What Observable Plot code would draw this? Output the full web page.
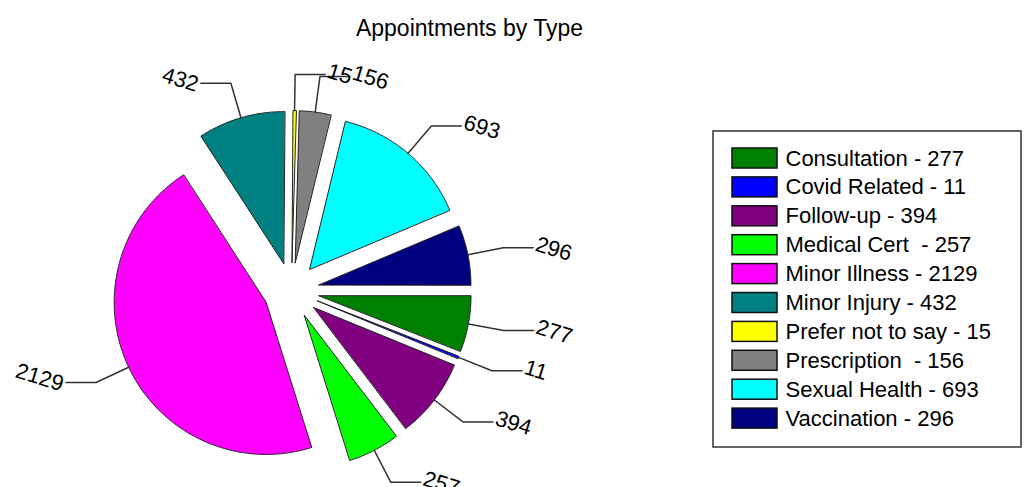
<!DOCTYPE html>
<html>
<head>
<meta charset="utf-8">
<script src="https://cdn.jsdelivr.net/npm/d3@7"></script>
<script src="https://cdn.jsdelivr.net/npm/@observablehq/plot@0.6"></script>
<style>
  html, body { margin: 0; padding: 0; background: #fff; }
  #chart svg text { white-space: pre; }
</style>
</head>
<body>
<div id="chart"></div>
<script>
const title = "Appointments by Type";
const categories = ["Consultation", "Covid Related", "Follow-up", "Medical Cert ", "Minor Illness", "Minor Injury", "Prefer not to say", "Prescription ", "Sexual Health", "Vaccination"];
const values = [277, 11, 394, 257, 2129, 432, 15, 156, 693, 296];
const colors = ["#008000", "#0000ff", "#800080", "#00ff00", "#ff00ff", "#008080", "#ffff00", "#808080", "#00ffff", "#000080"];

// layout
const W = 1024, H = 487;
const cx = 291, cy = 290, R = 152, explode = 28, leadOut = 36, leadH = 30;
const FONT = "Liberation Sans, Arial, sans-serif";

const arcs = d3.pie().sort(null).startAngle(Math.PI / 2).endAngle(Math.PI / 2 + 2 * Math.PI)(values);
const dir = a => [Math.sin(a), -Math.cos(a)];

const slices = arcs.map((arc, i) => {
  const m = (arc.startAngle + arc.endAngle) / 2;
  const [dx, dy] = dir(m);
  const ex = cx + explode * dx, ey = cy + explode * dy;
  const pts = [{x: ex, y: ey}];
  const n = Math.max(2, Math.ceil((arc.endAngle - arc.startAngle) / 0.01));
  for (let k = 0; k <= n; k++) {
    const t = arc.startAngle + (arc.endAngle - arc.startAngle) * k / n;
    const [ux, uy] = dir(t);
    pts.push({x: ex + R * ux, y: ey + R * uy});
  }
  const side = dx >= 0 ? 1 : -1;
  const p1 = {x: ex + R * dx, y: ey + R * dy};
  const p2 = {x: ex + (R + leadOut) * dx, y: ey + (R + leadOut) * dy};
  const p3 = {x: p2.x + side * leadH, y: p2.y};
  return {i, pts, lead: [p1, p2, p3].map(p => ({...p, k: i})), label: {x: p3.x + side * 3, y: p3.y + (side > 0 ? -4 : 2), side, text: String(values[i])}};
});

const marks = [];
// slices
for (const s of slices) {
  marks.push(Plot.line(s.pts, {x: "x", y: "y", curve: "linear-closed", fill: colors[s.i], stroke: "#222", strokeWidth: 1}));
}
// leader lines
marks.push(Plot.line(slices.flatMap(s => s.lead), {x: "x", y: "y", z: "k", stroke: "#333", strokeWidth: 1.5}));
// labels
const labR = slices.map(s => s.label).filter(l => l.side > 0);
const labL = slices.map(s => s.label).filter(l => l.side < 0);
marks.push(Plot.text(labR, {x: "x", y: "y", text: "text", textAnchor: "start", lineAnchor: "middle", rotate: 17, fontSize: 22, fontFamily: FONT, fill: "#000"}));
marks.push(Plot.text(labL, {x: "x", y: "y", text: "text", textAnchor: "end", lineAnchor: "middle", rotate: 17, fontSize: 22, fontFamily: FONT, fill: "#000"}));
// title
marks.push(Plot.text([title], {x: () => 469, y: () => 28, text: d => d, fontSize: 23, fontFamily: FONT, fill: "#000", lineAnchor: "middle"}));
// legend
const lg = {x1: 713, y1: 131, x2: 1021, y2: 447, sx1: 732, sx2: 777, top: 158, step: 28.9, sh: 20, tx: 785};
marks.push(Plot.rect([0], {x1: () => lg.x1, x2: () => lg.x2, y1: () => lg.y1, y2: () => lg.y2, fill: "none", stroke: "#333", strokeWidth: 1.5}));
const legendRows = categories.map((c, i) => ({label: `${c} - ${values[i]}`, color: colors[i], yc: lg.top + i * lg.step}));
marks.push(Plot.rect(legendRows, {x1: () => lg.sx1, x2: () => lg.sx2, y1: d => d.yc - lg.sh / 2, y2: d => d.yc + lg.sh / 2, fill: "color", stroke: "#111", strokeWidth: 1.5}));
marks.push(Plot.text(legendRows, {x: () => lg.tx, y: "yc", text: "label", textAnchor: "start", lineAnchor: "middle", fontSize: 22, fontFamily: FONT, fill: "#000"}));

const chart = Plot.plot({
  width: W, height: H, margin: 0,
  style: {background: "#fff", overflow: "visible"},
  x: {domain: [0, W], range: [0, W], axis: null},
  y: {domain: [0, H], range: [0, H], axis: null},
  color: {type: "identity"},
  marks
});
document.getElementById("chart").appendChild(chart);
</script>
</body>
</html>
